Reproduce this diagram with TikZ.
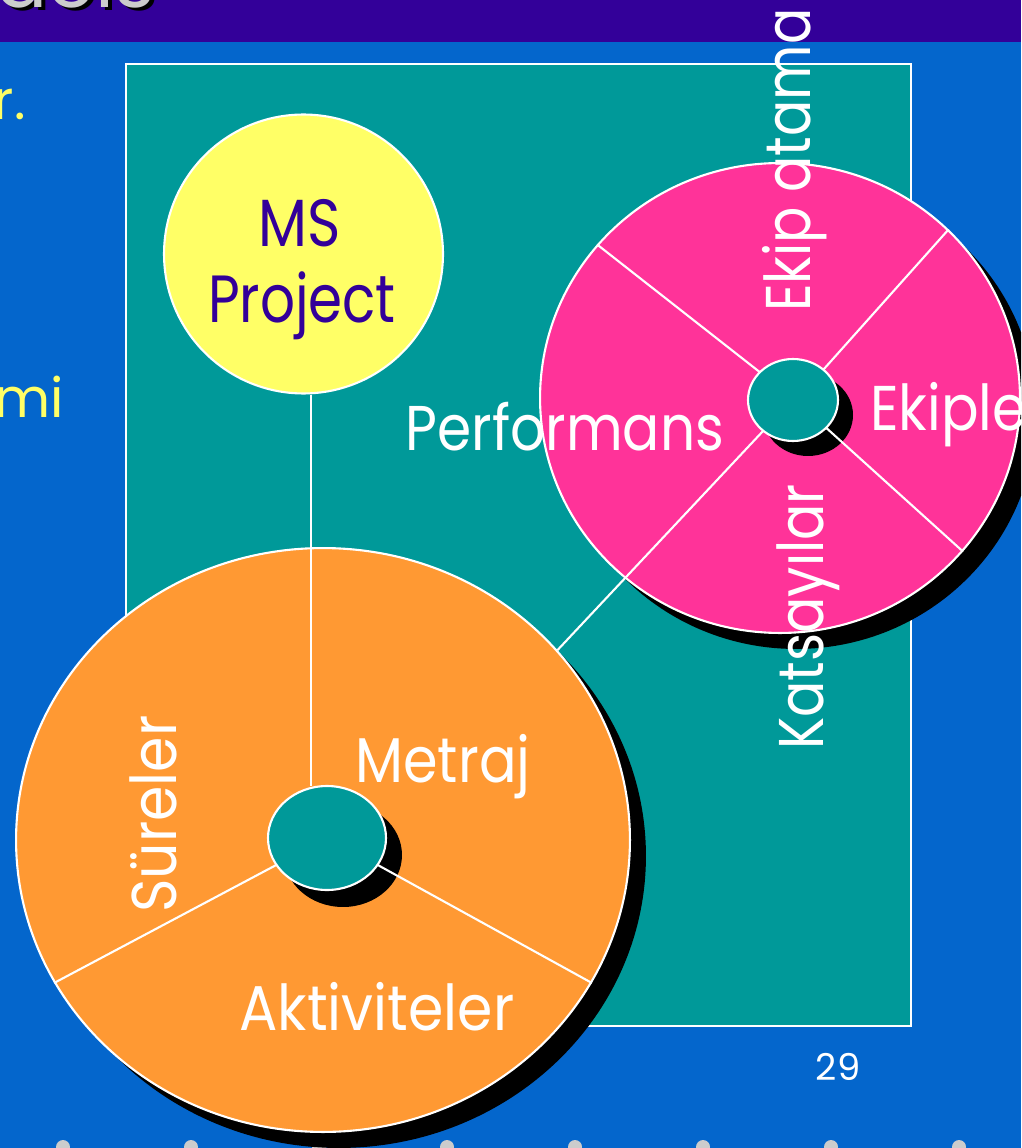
\documentclass[tikz,border=0pt]{standalone}
\usepackage{graphicx}
\usepackage{fontspec}
\setmainfont{Poppins}
\usetikzlibrary{shapes.geometric}
\definecolor{bgblue}{HTML}{0466CC}
\definecolor{titlepurple}{HTML}{330099}
\definecolor{panelteal}{HTML}{009999}
\definecolor{discorange}{HTML}{FF9933}
\definecolor{discpink}{HTML}{FF3399}
\definecolor{discyellow}{HTML}{FFFF66}
\definecolor{textyellow}{HTML}{FFFF66}
\definecolor{dotgray}{HTML}{CCCCCC}
\newcommand{\narrowtxt}[2]{\scalebox{#1}[1]{#2}}
\tikzset{
  disc/.style={ellipse, inner sep=0pt, draw=white, line width=1.2pt},
  shadowdisc/.style={ellipse, inner sep=0pt, fill=black},
  spoke/.style={draw=white, line width=1.2pt},
  lbl/.style={text=white, inner sep=0pt, font=\fontsize{36}{40}\selectfont},
  mslbl/.style={text=titlepurple, inner sep=0pt, font=\fontsize{38}{44}\selectfont},
  sidetext/.style={text=textyellow, inner sep=0pt, font=\fontsize{31}{36}\selectfont},
  pagedot/.style={circle, fill=dotgray, inner sep=0pt, minimum size=0.28cm},
}
\begin{document}
\begin{tikzpicture}[x=0.02cm,y=-0.02cm]
\useasboundingbox (0,0) rectangle (1021,1148);
\clip (0,0) rectangle (1021,1148);
% background and title bar
\fill[bgblue] (0,0) rectangle (1021,1148);
\fill[titlepurple] (0,0) rectangle (1021,42);
\node[anchor=base east, inner sep=0pt, text=black, font=\fontsize{44}{48}\selectfont] (titleshadow) at (159,11) {Models};
\node[anchor=base east, inner sep=0pt, text=dotgray, font=\fontsize{44}{48}\selectfont] (title) at (155,8) {Models};
% partial left column text
\node[sidetext, anchor=base east] (sideA) at (26,120) {r.};
\node[sidetext, anchor=base east] (sideB) at (64,417) {mi};
% bottom dots
\foreach \i/\xx in {1/63,2/191,3/319,4/447,5/575,6/703,7/831,8/959}
  \node[pagedot] (dot\i) at (\xx,1147) {};
% teal panel
\node[draw=white, line width=1.2pt, fill=panelteal, inner sep=0pt, anchor=north west,
      minimum width=15.7cm, minimum height=19.24cm] (panel) at (125,63) {};
% page number
\node[text=white, inner sep=0pt, font=\fontsize{21}{24}\selectfont] (pagenum) at (838,1067) {29};
% MS Project disc
\node[disc, circle, fill=discyellow, minimum size=5.58cm] (ms) at (303.5,254) {};
\node[mslbl, anchor=base] (msline1) at (300,247) {\narrowtxt{0.85}{MS}};
\node[mslbl, anchor=base] (msline2) at (302,323) {\narrowtxt{0.82}{Project}};
% orange disc
\node[shadowdisc, minimum width=12.28cm, minimum height=11.68cm] (orsh) at (339,856) {};
\node[disc, fill=discorange, minimum width=12.28cm, minimum height=11.68cm] (or) at (323,840) {};
% pink disc
\node[shadowdisc, minimum width=9.6cm, minimum height=9.4cm] (pksh) at (796,414) {};
\node[disc, fill=discpink, minimum width=9.6cm, minimum height=9.4cm] (pk) at (780,398) {};
% inner hubs (shadows)
\node[shadowdisc, minimum width=2.36cm, minimum height=2.08cm] (oinsh) at (343,855) {};
\node[shadowdisc, minimum width=1.8cm, minimum height=1.64cm] (pinsh) at (808,415) {};
% hub outlines used as spoke ends
\node[ellipse, inner sep=0pt, minimum width=2.36cm, minimum height=2.08cm] (oin) at (327,838) {};
\node[ellipse, inner sep=0pt, minimum width=1.8cm, minimum height=1.64cm] (pin) at (793,400) {};
% spokes
\coordinate (vx) at (311,0);
\draw[spoke] (ms.south -| vx) -- (oin.north -| vx);
\draw[spoke] (oin.208) -- (or.208);
\draw[spoke] (oin.332) -- (or.332);
\draw[spoke] (pin.140) -- (pk.140);
\draw[spoke] (pin.45) -- (pk.45);
\draw[spoke] (pin.-40) -- (pk.-40);
\draw[spoke] (pin.226) -- (or.39);
% hubs
\node[disc, fill=panelteal, minimum width=2.36cm, minimum height=2.08cm] (oinh) at (327,838) {};
\node[disc, fill=panelteal, minimum width=1.8cm, minimum height=1.64cm] (pinh) at (793,400) {};
% labels
\node[lbl, anchor=base] (metraj) at (443,782) {\narrowtxt{0.88}{Metraj}};
\node[lbl, anchor=base] (aktiv) at (377,1030) {\narrowtxt{0.9}{Aktiviteler}};
\node[lbl, anchor=base west, rotate=90] (sureler) at (176,913) {\narrowtxt{0.9}{Süreler}};
\node[lbl, anchor=base] (perf) at (565,450) {\narrowtxt{0.87}{Performans}};
\node[lbl, anchor=base west] (ekipler) at (870,430) {\narrowtxt{0.88}{Ekipler}};
\node[lbl, anchor=base west, rotate=90] (ekipatama) at (810,312) {\narrowtxt{0.85}{Ekip atama}};
\node[lbl, anchor=base west, rotate=90] (katsay) at (823,750) {\narrowtxt{0.85}{Katsayılar}};
\end{tikzpicture}
\end{document}
